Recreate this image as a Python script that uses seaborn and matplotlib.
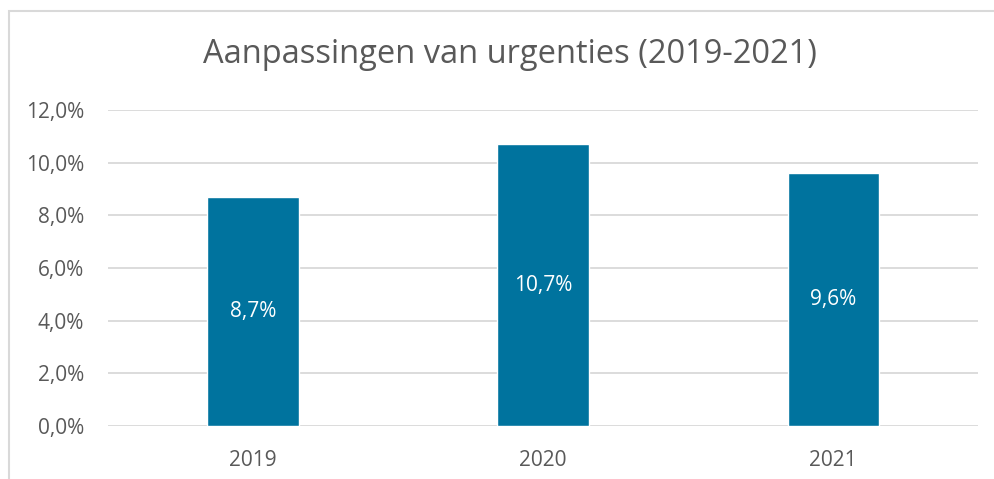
import matplotlib.pyplot as plt
import seaborn as sns
import pandas as pd
from matplotlib.patches import Rectangle
from matplotlib.ticker import FuncFormatter

years = ["2019", "2020", "2021"]
values = [8.7, 10.7, 9.6]
labels = ["8,7%", "10,7%", "9,6%"]
yticks = [0, 2, 4, 6, 8, 10, 12]

df = pd.DataFrame({"year": years, "value": values})

sns.set_style("white")
plt.rcParams["font.family"] = ["Open Sans", "DejaVu Sans"]
grey = "#595959"

fig = plt.figure(figsize=(9.95, 4.79), dpi=100)
ax = fig.add_axes([0.1085, 0.1106, 0.8745, 0.6598])

sns.barplot(data=df, x="year", y="value", color="#00739E", width=0.314,
            saturation=1, ax=ax, zorder=3)

for i, (v, lab) in enumerate(zip(values, labels)):
    ax.text(i, v / 2, lab, ha="center", va="center", color="white", fontsize=15)

ax.set_xlim(-0.5, 2.5)
ax.set_ylim(0, 12)
ax.set_yticks(yticks)
ax.yaxis.set_major_formatter(FuncFormatter(lambda y, _: f"{y:.1f}%".replace(".", ",")))
ax.grid(axis="y", color="#D9D9D9", linewidth=1.3, zorder=0)
ax.set_xlabel("")
ax.set_ylabel("")
for s in ax.spines.values():
    s.set_visible(False)
ax.tick_params(axis="both", length=0, labelsize=15, labelcolor=grey)
ax.tick_params(axis="y", pad=17)
ax.tick_params(axis="x", pad=17)

fig.text(0.513, 0.887, "Aanpassingen van urgenties (2019-2021)", ha="center", va="center",
         fontsize=23.5, color=grey)

fig.patches.append(Rectangle((9 / 995, -0.1), 1.2, 1 - 11 / 479 + 0.1, transform=fig.transFigure,
                             fill=False, edgecolor="#D9D9D9", linewidth=1.5))

fig.savefig("out.png", dpi=100)
plt.close(fig)
